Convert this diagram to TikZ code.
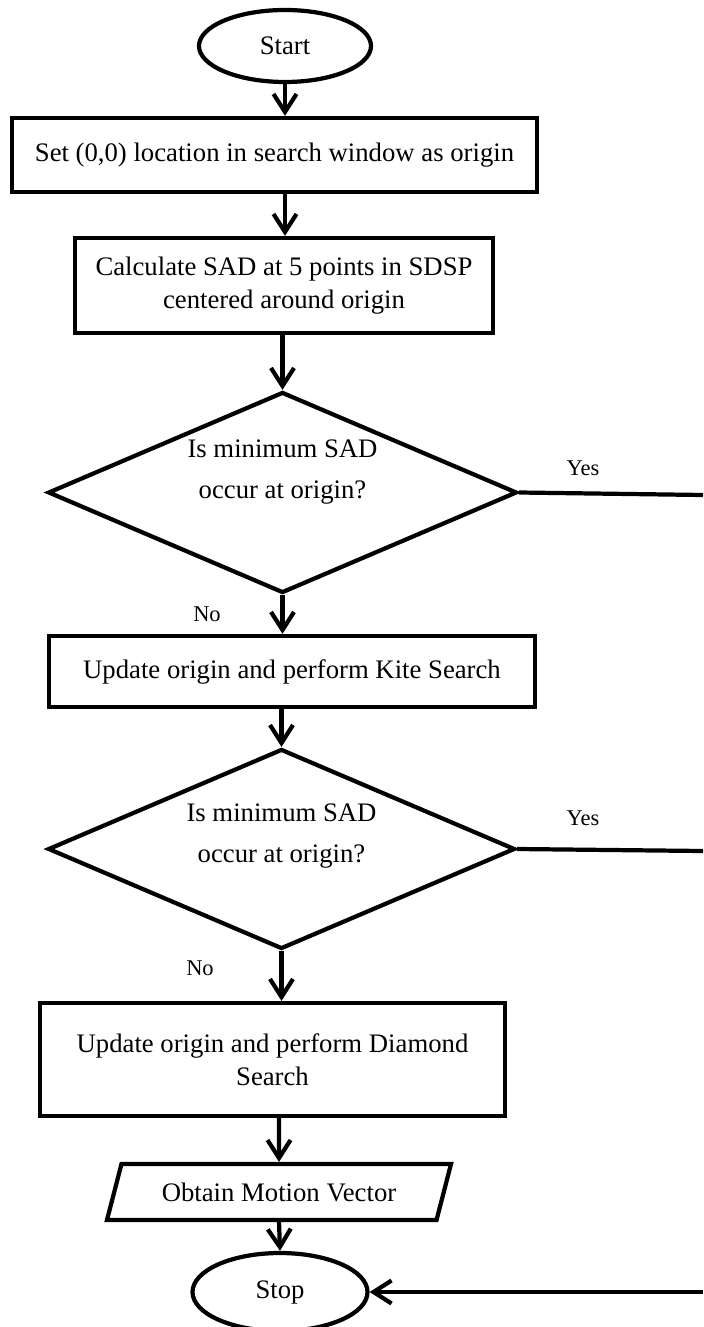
\documentclass[tikz,border=0pt]{standalone}
\usepackage{fontspec}
\setmainfont{Liberation Serif}
\usetikzlibrary{arrows.meta,positioning,calc,shapes.geometric}
\tikzset{
  proc/.style={draw,line width=2.4pt,align=center,inner sep=3pt},      % process box
  term/.style={draw,ellipse,line width=2.4pt,inner sep=0pt},           % start / stop
  decide/.style={draw,diamond,line width=2.4pt,inner sep=0pt},         % decision
  io/.style={draw,trapezium,trapezium left angle=75.5,trapezium right angle=104.5,
             trapezium stretches body,line width=2.4pt,
             inner xsep=0pt,inner ysep=0.37cm},                        % output
  ar/.style={-{Straight Barb[length=3.6mm,width=4.6mm]},line width=2.4pt},
  ln/.style={line width=2.4pt},
  yn/.style={font=\fontsize{12.8}{15}\selectfont,inner sep=1pt},
  dtxt/.style={align=center,font=\fontsize{15.2}{23}\selectfont,inner sep=0pt}
}

\begin{document}
\begin{tikzpicture}[font=\fontsize{15.2}{19}\selectfont]
  \useasboundingbox (0,0) rectangle (14.06,-26.54);
  % main column
  \node[term,minimum width=3.44cm,minimum height=1.44cm] (start) at (5.70,-0.92) {Start};
  \node[proc,minimum width=10.5cm,minimum height=1.48cm] (setorg) at (5.49,-3.10)
    {Set (0,0) location in search window as origin};
  \node[proc,minimum width=8.36cm,minimum height=1.90cm] (sdsp) at (5.68,-5.71)
    {Calculate SAD at 5 points in SDSP\\centered around origin};
  \node[decide,minimum width=9.38cm,minimum height=4.02cm] (dec1) at (5.65,-9.85) {};
  \node[dtxt] (dec1t) at (5.65,-9.44) {Is minimum SAD\\occur at origin?};
  \node[proc,minimum width=9.72cm,minimum height=1.42cm] (kite) at (5.84,-13.43)
    {Update origin and perform Kite Search};
  \node[decide,minimum width=9.34cm,minimum height=4.00cm] (dec2) at (5.63,-16.98) {};
  \node[dtxt] (dec2t) at (5.63,-16.72) {Is minimum SAD\\occur at origin?};
  \node[proc,minimum width=9.30cm,minimum height=2.26cm] (dsearch) at (5.45,-21.19)
    {Update origin and perform Diamond\\Search};
  \node[io,minimum width=6.88cm] (mv) at (5.58,-23.84)
    {Obtain Motion Vector};
  \node[term,minimum width=3.50cm,minimum height=1.56cm] (stop) at (5.60,-25.84) {Stop};

  % arrows down the column
  \draw[ar] (start.south) -- (start.south |- setorg.north);
  \draw[ar] (start |- setorg.south) -- (start |- sdsp.north);
  \draw[ar] (dec1 |- sdsp.south) -- (dec1.north);
  \draw[ar] (dec1.south) -- (dec1.south |- kite.north);
  \draw[ar] (dec2 |- kite.south) -- (dec2.north);
  \draw[ar] (dec2.south) -- (dec2.south |- dsearch.north);
  \draw[ar] (mv |- dsearch.south) -- (mv.north);
  \draw[ar] (mv.south) -- (stop.north);
  \node[yn] (no1) at (4.14,-12.28) {No};
  \node[yn] (no2) at (4.00,-19.36) {No};

  % yes branches run off the right edge
  \coordinate (yes1end) at (14.06,-9.90);
  \coordinate (yes2end) at (14.06,-17.02);
  \coordinate (backin) at (14.06,-25.84);
  \draw[ln] (dec1.east) -- (yes1end);
  \draw[ln] (dec2.east) -- (yes2end);
  \node[yn] (yes1) at (11.66,-9.36) {Yes};
  \node[yn] (yes2) at (11.66,-16.36) {Yes};
  \draw[ar] (backin) -- (stop.east);
\end{tikzpicture}
\end{document}
